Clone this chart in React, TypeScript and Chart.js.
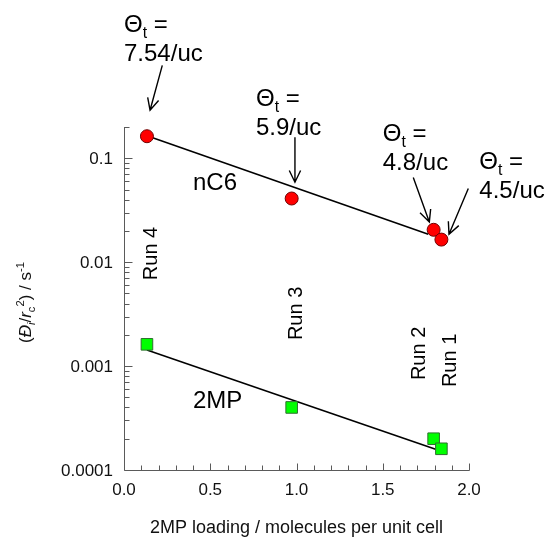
import React, { useEffect, useRef } from 'react';
import { Chart, registerables } from 'chart.js';
Chart.register(...registerables);

// ---- data ----
const loading = [0.133, 0.972, 1.795, 1.84];
const nC6Values = [0.163, 0.041, 0.0205, 0.0165];
const mp2Values = [0.00162, 0.0004, 0.0002, 0.00016];
const nC6FitX = [0.133, 1.764];
const nC6FitY = [0.165, 0.0186];
const mp2FitX = [0.133, 1.819];
const mp2FitY = [0.001426, 0.0001556];

const xTickValues = [0, 0.5, 1, 1.5, 2];
const xTickLabels = ['0.0', '0.5', '1.0', '1.5', '2.0'];
const yTickValues = [0.0001, 0.001, 0.01, 0.1];
const yTickLabels = ['0.0001', '0.001', '0.01', '0.1'];

const thetaLabels = ['7.54/uc', '5.9/uc', '4.8/uc', '4.5/uc'];
const thetaTextX = [0.0, 0.765, 1.5, 2.06];
const thetaTextY = [1.63, 0.316, 0.1457, 0.0784];
const arrowTailX = [0.222, 0.991, 1.677, 1.996];
const arrowTailY = [0.783, 0.159, 0.0652, 0.0511];
const arrowTipX = [0.151, 0.991, 1.77, 1.884];
const arrowTipY = [0.29, 0.0588, 0.0244, 0.0186];

const runLabels = ['Run 4', 'Run 3', 'Run 2', 'Run 1'];
const runX = [0.19, 1.03, 1.745, 1.925];
const runY = [0.00671, 0.00178, 0.000733, 0.000628];

const seriesNames = ['nC6', '2MP'];
const seriesLabelX = [0.4, 0.4];
const seriesLabelY = [0.0492, 0.000395];

const xTitle = '2MP loading / molecules per unit cell';

const FONT = '"Liberation Sans", Arial, sans-serif';

type Part = { t: string; italic?: boolean; sub?: boolean; sup?: boolean };

function partFont(p: Part, size: number) {
  const s = p.sub || p.sup ? size * 0.66 : size;
  return `${p.italic ? 'italic ' : ''}${s}px ${FONT}`;
}

function richWidth(ctx: CanvasRenderingContext2D, parts: Part[], size: number) {
  let w = 0;
  for (const p of parts) {
    ctx.font = partFont(p, size);
    w += ctx.measureText(p.t).width;
  }
  return w;
}

function drawRich(ctx: CanvasRenderingContext2D, parts: Part[], x: number, y: number, size: number) {
  let cx = x;
  ctx.textBaseline = 'alphabetic';
  ctx.textAlign = 'left';
  for (const p of parts) {
    ctx.font = partFont(p, size);
    let dy = 0;
    if (p.sub) dy = size * 0.22;
    if (p.sup) dy = -size * 0.42;
    ctx.fillText(p.t, cx, y + dy);
    cx += ctx.measureText(p.t).width;
  }
}

const overlayPlugin = {
  id: 'overlay',
  beforeDatasetsDraw(chart: any) {
    const ctx: CanvasRenderingContext2D = chart.ctx;
    const { left, right, top, bottom } = chart.chartArea;
    const xs = chart.scales.x;
    const ys = chart.scales.y;
    ctx.save();
    ctx.strokeStyle = '#5a5a5a';
    ctx.lineWidth = 1;
    ctx.beginPath();
    const L = Math.round(left) + 0.5;
    const B = Math.round(bottom) + 0.5;
    ctx.moveTo(L, Math.round(top));
    ctx.lineTo(L, B);
    ctx.lineTo(Math.round(right) + 0.5, B);
    // y ticks (inward)
    for (let e = -4; e <= -1; e++) {
      for (let m = 1; m <= 9; m++) {
        const v = m * Math.pow(10, e);
        if (v < ys.min * 0.999 || v > ys.max * 1.001) continue;
        const py = Math.round(ys.getPixelForValue(v)) + 0.5;
        const len = m === 1 ? 8 : 5;
        ctx.moveTo(L, py);
        ctx.lineTo(L + len, py);
      }
    }
    // x ticks (inward)
    for (let i = 1; i <= 20; i++) {
      const px = Math.round(xs.getPixelForValue(i / 10)) + 0.5;
      const len = i % 5 === 0 ? 7 : 5;
      ctx.moveTo(px, B);
      ctx.lineTo(px, B - len);
    }
    ctx.stroke();

    // tick labels
    ctx.fillStyle = '#111';
    ctx.font = `17px ${FONT}`;
    ctx.textAlign = 'right';
    ctx.textBaseline = 'middle';
    yTickValues.forEach((v, i) => {
      ctx.fillText(yTickLabels[i], left - 11, ys.getPixelForValue(v) + 1);
    });
    ctx.textAlign = 'center';
    xTickValues.forEach((v, i) => {
      ctx.fillText(xTickLabels[i], xs.getPixelForValue(v), bottom + 20);
    });

    // axis titles
    ctx.font = `18px ${FONT}`;
    ctx.textBaseline = 'middle';
    ctx.fillText(xTitle, (left + right) / 2, bottom + 58);

    const yParts: Part[] = [
      { t: '(' },
      { t: 'Đ', italic: true },
      { t: 'i', italic: true, sub: true },
      { t: '/' },
      { t: 'r', italic: true },
      { t: 'c', sub: true },
      { t: '2', sup: true },
      { t: ') / s' },
      { t: '-1', sup: true },
    ];
    const ysize = 17;
    const w = richWidth(ctx, yParts, ysize);
    ctx.save();
    ctx.translate(left - 93, (top + bottom) / 2 + 4);
    ctx.rotate(-Math.PI / 2);
    drawRich(ctx, yParts, -w / 2, 0, ysize);
    ctx.restore();
    ctx.restore();
  },
  afterDraw(chart: any) {
    const ctx: CanvasRenderingContext2D = chart.ctx;
    const xs = chart.scales.x;
    const ys = chart.scales.y;
    ctx.save();
    ctx.fillStyle = '#000';
    ctx.strokeStyle = '#000';

    // theta annotations
    const size = 24;
    thetaLabels.forEach((lab, i) => {
      const px = xs.getPixelForValue(thetaTextX[i]);
      const py = ys.getPixelForValue(thetaTextY[i]);
      drawRich(ctx, [{ t: 'Θ' }, { t: 't', sub: true }, { t: ' =' }], px, py, size);
      ctx.font = `${size}px ${FONT}`;
      ctx.fillText(lab, px, py + 29);

      const x1 = xs.getPixelForValue(arrowTailX[i]);
      const y1 = ys.getPixelForValue(arrowTailY[i]);
      const x2 = xs.getPixelForValue(arrowTipX[i]);
      const y2 = ys.getPixelForValue(arrowTipY[i]);
      ctx.lineWidth = 1.4;
      ctx.beginPath();
      ctx.moveTo(x1, y1);
      ctx.lineTo(x2, y2);
      const ang = Math.atan2(y2 - y1, x2 - x1);
      const hl = 13;
      const spread = 0.45;
      ctx.moveTo(x2 - hl * Math.cos(ang - spread), y2 - hl * Math.sin(ang - spread));
      ctx.lineTo(x2, y2);
      ctx.lineTo(x2 - hl * Math.cos(ang + spread), y2 - hl * Math.sin(ang + spread));
      ctx.stroke();
    });

    // series names
    ctx.font = `24px ${FONT}`;
    ctx.textAlign = 'left';
    ctx.textBaseline = 'alphabetic';
    seriesNames.forEach((n, i) => {
      ctx.fillText(n, xs.getPixelForValue(seriesLabelX[i]), ys.getPixelForValue(seriesLabelY[i]));
    });

    // run labels (rotated)
    ctx.font = `20px ${FONT}`;
    runLabels.forEach((r, i) => {
      ctx.save();
      ctx.translate(xs.getPixelForValue(runX[i]), ys.getPixelForValue(runY[i]));
      ctx.rotate(-Math.PI / 2);
      ctx.textAlign = 'left';
      ctx.textBaseline = 'alphabetic';
      ctx.fillText(r, 0, 0);
      ctx.restore();
    });
    ctx.restore();
  },
};

export default function App() {
  const ref = useRef<HTMLCanvasElement | null>(null);
  useEffect(() => {
    if (!ref.current) return;
    const chart = new Chart(ref.current, {
      type: 'scatter',
      data: {
        datasets: [
          {
            label: 'nC6',
            data: loading.map((x, i) => ({ x, y: nC6Values[i] })),
            pointStyle: 'circle',
            pointRadius: 6.5,
            backgroundColor: '#ff0000',
            borderColor: '#700000',
            borderWidth: 1,
          },
          {
            label: '2MP',
            data: loading.map((x, i) => ({ x, y: mp2Values[i] })),
            pointStyle: 'rect',
            pointRadius: 8.2,
            backgroundColor: '#00ff00',
            borderColor: '#2f6f2f',
            borderWidth: 1,
          },
          {
            label: 'nC6 fit',
            data: nC6FitX.map((x, i) => ({ x, y: nC6FitY[i] })),
            showLine: true,
            pointRadius: 0,
            borderColor: '#000',
            borderWidth: 1.6,
          },
          {
            label: '2MP fit',
            data: mp2FitX.map((x, i) => ({ x, y: mp2FitY[i] })),
            showLine: true,
            pointRadius: 0,
            borderColor: '#000',
            borderWidth: 1.6,
          },
        ],
      },
      options: {
        responsive: false,
        animation: false,
        devicePixelRatio: 1,
        layout: { padding: { left: 124, right: 78, top: 127, bottom: 68 } },
        plugins: { legend: { display: false }, tooltip: { enabled: false } },
        scales: {
          x: { type: 'linear', min: 0, max: 2, display: false },
          y: { type: 'logarithmic', min: 0.0001, max: 0.2, display: false },
        },
      },
      plugins: [overlayPlugin],
    } as any);
    return () => chart.destroy();
  }, []);
  return (
    <div style={{ position: 'fixed', left: 0, top: 0, width: 547, height: 538, background: '#fff' }}>
      <canvas ref={ref} width={547} height={538} />
    </div>
  );
}
